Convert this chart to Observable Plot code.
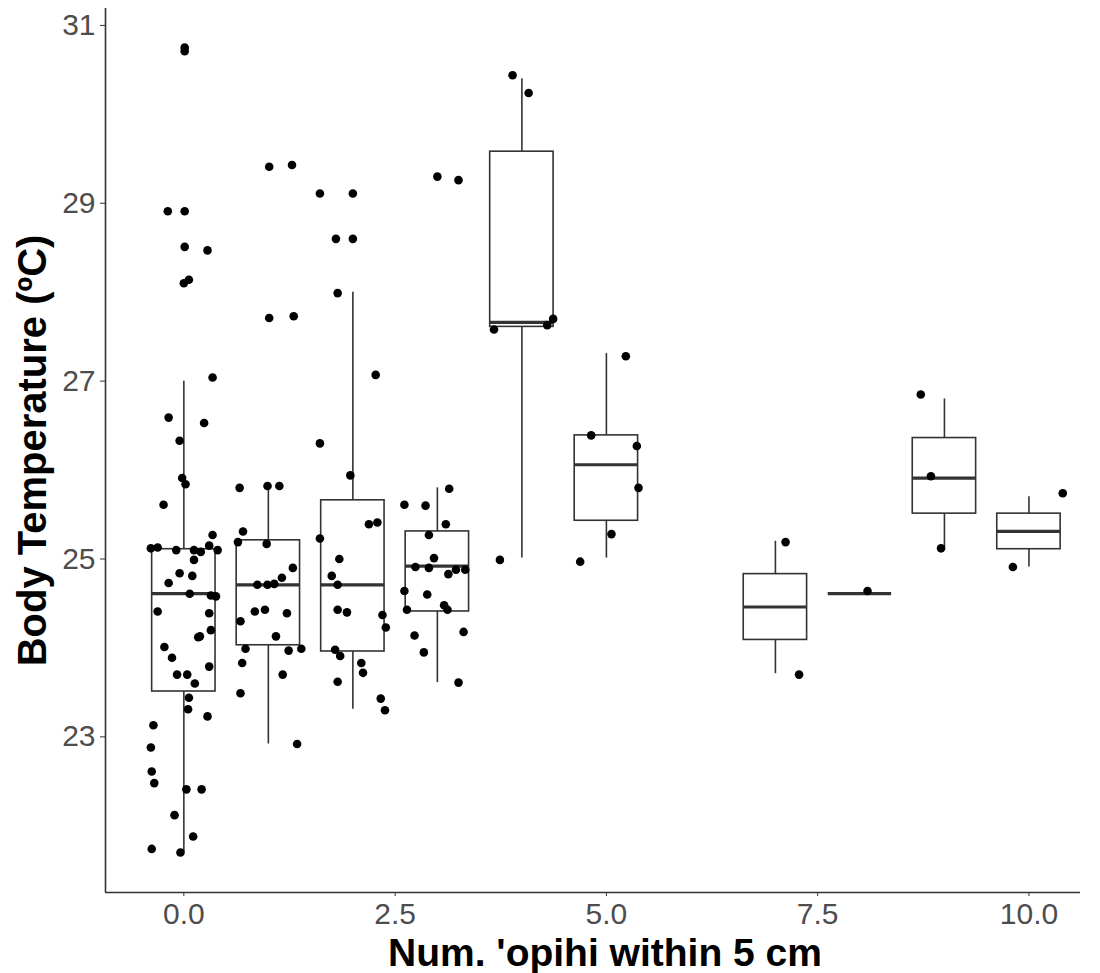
<!DOCTYPE html>
<html>
<head>
<meta charset="utf-8">
<script src="https://cdn.jsdelivr.net/npm/d3@7"></script>
<script src="https://cdn.jsdelivr.net/npm/@observablehq/plot@0.6"></script>
<style>
  html, body { margin: 0; padding: 0; background: white; }
  #chart svg { display: block; }
</style>
</head>
<body>
<div id="chart"></div>
<script>
// ---- data ----
const groups      = [0, 1, 2, 3, 4, 5, 7, 8, 9, 10];
const whiskerLow  = [21.70, 22.92, 23.31, 23.61, 25.01, 25.01, 23.71, 24.61, 25.13, 24.91];
const q1          = [23.51, 24.03, 23.96, 24.41, 27.61, 25.43, 24.09, 24.61, 25.51, 25.11];
const median      = [24.61, 24.71, 24.71, 24.92, 27.66, 26.06, 24.46, 24.61, 25.91, 25.31];
const q3          = [25.11, 25.21, 25.66, 25.31, 29.58, 26.39, 24.83, 24.61, 26.36, 25.51];
const whiskerHigh = [27.00, 25.82, 28.00, 25.80, 30.40, 27.31, 25.20, 24.61, 26.80, 25.70];

const pointGroup = [
  0,0,0,0,0,0,0,0,0,0,0,0,0,0,0,0,0,0,0,0,0,0,0,0,0,0,0,0,0,0,0,0,0,0,0,0,0,0,0,0,0,0,0,0,0,0,0,0,0,0,0,0,0,0,
  1,1,1,1,1,1,1,1,1,1,1,1,1,1,1,1,1,1,1,1,1,1,1,1,1,1,1,
  2,2,2,2,2,2,2,2,2,2,2,2,2,2,2,2,2,2,2,2,2,2,2,2,2,
  3,3,3,3,3,3,3,3,3,3,3,3,3,3,3,3,3,3,3,3,3,3,
  4,4,4,4,4,4,
  5,5,5,5,5,5,
  7,7,
  8,
  9,9,9,
  10,10
];
const pointJitter = [
  0.01,0.01,-0.19,0.01,0.01,0.28,0.00,0.06,0.34,-0.18,0.24,-0.05,-0.02,0.02,-0.24,0.34,-0.39,-0.31,-0.09,0.12,0.20,0.30,0.40,0.12,-0.05,0.10,-0.18,0.07,0.32,0.38,-0.31,0.30,0.32,0.17,0.19,-0.23,-0.14,0.30,-0.08,0.04,0.13,0.06,0.05,0.28,-0.36,-0.39,-0.38,-0.35,0.03,0.21,-0.11,0.11,-0.38,-0.04,
  0.01,0.28,0.01,0.30,-0.34,-0.01,0.13,-0.30,-0.36,-0.02,0.29,0.16,-0.13,-0.01,0.07,-0.16,-0.04,0.22,-0.33,0.09,-0.27,0.24,0.39,-0.31,0.17,-0.33,0.34,
  -0.39,0.00,-0.20,0.00,-0.18,0.27,-0.39,-0.03,0.19,0.29,-0.39,-0.16,-0.25,-0.18,-0.18,-0.07,0.35,0.39,-0.21,-0.15,0.10,0.12,-0.18,0.33,0.38,
  0.00,0.25,0.14,-0.39,-0.14,0.10,-0.10,-0.04,-0.26,-0.10,0.22,0.33,0.13,-0.39,-0.12,0.08,0.12,-0.36,0.31,-0.27,-0.16,0.25,
  -0.11,0.08,-0.33,0.30,0.37,-0.26,
  0.23,-0.18,0.36,0.38,0.06,-0.31,
  0.12,0.28,
  0.09,
  -0.28,-0.16,-0.04,
  0.40,-0.19
];
const pointTemp = [
  30.75,30.71,28.91,28.91,28.51,28.47,28.10,28.14,27.04,26.59,26.53,26.33,25.91,25.84,25.61,25.27,25.12,25.13,25.10,25.10,25.08,25.15,25.10,24.99,24.84,24.81,24.73,24.61,24.59,24.58,24.41,24.39,24.20,24.12,24.13,24.01,23.89,23.79,23.70,23.70,23.60,23.44,23.31,23.23,23.13,22.88,22.61,22.48,22.41,22.41,22.12,21.88,21.74,21.70,
  29.41,29.43,27.71,27.73,25.80,25.82,25.82,25.31,25.19,25.17,24.90,24.79,24.71,24.71,24.72,24.41,24.43,24.39,24.30,24.13,23.99,23.97,23.99,23.83,23.70,23.49,22.92,
  29.11,29.11,28.60,28.60,27.99,27.07,26.30,25.94,25.39,25.41,25.23,25.00,24.81,24.71,24.43,24.40,24.37,24.23,23.98,23.91,23.83,23.72,23.62,23.43,23.30,
  29.30,29.26,25.79,25.61,25.60,25.39,25.27,25.01,24.91,24.90,24.88,24.88,24.83,24.64,24.60,24.48,24.43,24.43,24.18,24.14,23.95,23.61,
  30.44,30.24,27.58,27.63,27.70,24.99,
  27.28,26.39,26.27,25.80,25.28,24.97,
  25.19,23.70,
  24.64,
  26.85,25.93,25.12,
  25.74,24.91
];

const xTicks = [0, 2.5, 5, 7.5, 10];
const yTicks = [23, 25, 27, 29, 31];
const xDomain = [-0.927, 10.61];
const yDomain = [21.25, 31.19];
const boxHalfWidth = 0.375;
const xTitle = "Num. 'opihi within 5 cm";
const yTitle = "Body Temperature (ºC)";

// ---- tables built from the arrays ----
const boxes = groups.map((g, i) => ({
  x: g, lo: whiskerLow[i], q1: q1[i], med: median[i], q3: q3[i], hi: whiskerHigh[i]
}));
const points = pointTemp.map((t, i) => ({ x: pointGroup[i] + pointJitter[i], y: t }));

const font = "'Liberation Sans', Arial, Helvetica, sans-serif";
const lineColor = "#333333";
const tickFont = 30;

const chart = Plot.plot({
  width: 1100,
  height: 973,
  marginLeft: 105,
  marginRight: 20,
  marginTop: 8,
  marginBottom: 81,
  style: { fontFamily: font, fontSize: tickFont + "px", background: "white", overflow: "visible" },
  x: { domain: xDomain, ticks: xTicks },
  y: { domain: yDomain, ticks: yTicks },
  marks: [
    // whiskers
    Plot.ruleX(boxes, { x: "x", y1: "q3", y2: "hi", stroke: lineColor, strokeWidth: 1.6 }),
    Plot.ruleX(boxes, { x: "x", y1: "lo", y2: "q1", stroke: lineColor, strokeWidth: 1.6 }),
    // boxes
    Plot.rect(boxes, {
      x1: d => d.x - boxHalfWidth, x2: d => d.x + boxHalfWidth,
      y1: "q1", y2: "q3", fill: "white", stroke: lineColor, strokeWidth: 1.6
    }),
    // medians
    Plot.ruleY(boxes, {
      y: "med", x1: d => d.x - boxHalfWidth, x2: d => d.x + boxHalfWidth,
      stroke: lineColor, strokeWidth: 3.2
    }),
    // jittered points
    Plot.dot(points, { x: "x", y: "y", r: 4.3, fill: "black", stroke: "none" }),
    // axis lines
    Plot.ruleY([yDomain[0]], { stroke: lineColor, strokeWidth: 1.6 }),
    Plot.ruleX([xDomain[0]], { stroke: lineColor, strokeWidth: 1.6 }),
    // axes
    Plot.axisX({
      ticks: xTicks, tickFormat: d3.format(".1f"), tickSize: 4, tickPadding: 6,
      fontSize: tickFont, stroke: lineColor, fill: "#4d4d4d", label: null
    }),
    Plot.axisY({
      ticks: yTicks, tickFormat: d3.format("d"), tickSize: 5, tickPadding: 5,
      fontSize: tickFont, stroke: lineColor, fill: "#4d4d4d", label: null
    }),
    // axis titles
    Plot.text([xTitle], {
      text: d => d, frameAnchor: "bottom", dy: 61, dx: 12,
      textAnchor: "middle", lineAnchor: "middle",
      fontSize: 39, fontWeight: "bold", fill: "black"
    }),
    Plot.text([yTitle], {
      text: d => d, frameAnchor: "left", dx: -72, rotate: -90,
      textAnchor: "middle", lineAnchor: "middle",
      fontSize: 40, fontWeight: "bold", fill: "black"
    })
  ]
});

// make sure tick labels use the intended size
chart.querySelectorAll('g[aria-label="x-axis tick label"], g[aria-label="y-axis tick label"]').forEach(g => {
  g.setAttribute("font-size", tickFont);
  g.querySelectorAll("text").forEach(t => t.style.fontSize = tickFont + "px");
});

document.getElementById("chart").appendChild(chart);
</script>
</body>
</html>
